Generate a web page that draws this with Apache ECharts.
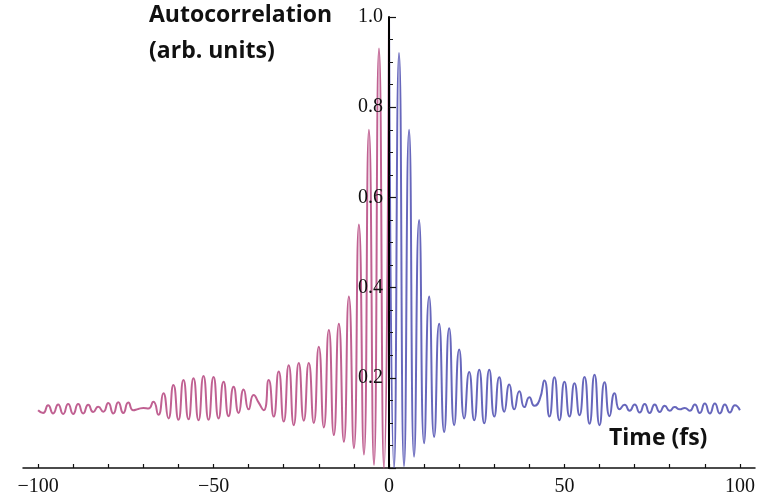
<!DOCTYPE html>
<html>
<head>
<meta charset="utf-8">
<script src="https://cdn.jsdelivr.net/npm/echarts@6/dist/echarts.min.js"></script>
<style>
html,body{margin:0;padding:0;background:#fff;}
#chart{width:759px;height:502px;}
</style>
</head>
<body>
<div id="chart"></div>
<script>
// Spacing (fs) between successive extrema of the fringe pattern
const extremaStepFs = 100 / 70;

// Autocorrelation read at successive extrema, starting at t = 0 and going to t = -100 fs
const leftValues = [
  1.0, 0.0, 0.93, 0.007, 0.75, 0.03, 0.54, 0.044, 0.38, 0.058,
  0.32, 0.073, 0.306, 0.09, 0.269, 0.10, 0.233, 0.105, 0.233, 0.095,
  0.228, 0.103, 0.214, 0.114, 0.195, 0.128, 0.145, 0.162, 0.13, 0.174,
  0.122, 0.18, 0.115, 0.191, 0.11, 0.202, 0.107, 0.204, 0.106, 0.199,
  0.108, 0.195, 0.107, 0.184, 0.11, 0.166, 0.118, 0.147, 0.132, 0.133,
  0.131, 0.128, 0.145, 0.122, 0.146, 0.121, 0.144, 0.125, 0.136, 0.124,
  0.14, 0.121, 0.142, 0.12, 0.142, 0.12, 0.141, 0.121, 0.139, 0.122,
  0.128
];

// Autocorrelation read at successive extrema, starting at t = 0 and going to t = +100 fs
const rightValues = [
  1.0, 0.0, 0.92, 0.004, 0.75, 0.025, 0.55, 0.055, 0.38, 0.069,
  0.32, 0.08, 0.31, 0.095, 0.263, 0.11, 0.213, 0.106, 0.218, 0.099,
  0.218, 0.114, 0.201, 0.125, 0.185, 0.13, 0.17, 0.135, 0.157, 0.138,
  0.15, 0.194, 0.114, 0.201, 0.106, 0.191, 0.114, 0.188, 0.117, 0.202,
  0.098, 0.207, 0.095, 0.19, 0.115, 0.166, 0.13, 0.14, 0.127, 0.141,
  0.123, 0.142, 0.122, 0.141, 0.124, 0.138, 0.127, 0.135, 0.13, 0.133,
  0.127, 0.141, 0.122, 0.143, 0.121, 0.143, 0.121, 0.141, 0.123, 0.139,
  0.128
];

const xTickValues = [-100,-90,-80,-70,-60,-50,-40,-30,-20,-10,0,10,20,30,40,50,60,70,80,90,100];
const xLabelValues = [-100, -50, 0, 50, 100];

const leftData = leftValues.map((v, j) => [-j * extremaStepFs, v]).reverse();
const rightData = rightValues.map((v, j) => [j * extremaStepFs, v]);

const X_MIN = -104.3, X_MAX = 104.3;
const GRID_LEFT = 23, GRID_RIGHT = 4;
const plotW = 759 - GRID_LEFT - GRID_RIGHT;
const zeroOffset = -plotW * (0 - X_MIN) / (X_MAX - X_MIN);

const chart = echarts.init(document.getElementById('chart'), null, {renderer: 'canvas'});
const serif = '"Liberation Serif", "DejaVu Serif", serif';
chart.setOption({
  animation: false,
  backgroundColor: '#ffffff',
  grid: {left: GRID_LEFT, right: GRID_RIGHT, top: 17, bottom: 34, containLabel: false, outerBoundsMode: 'none'},
  xAxis: {
    type: 'value',
    min: X_MIN,
    max: X_MAX,
    axisLine: {onZero: true, lineStyle: {color: '#111', width: 1.5}},
    axisTick: {show: true, inside: true, length: 4, customValues: xTickValues, lineStyle: {color: '#111', width: 1.2}},
    axisLabel: {
      customValues: xLabelValues,
      margin: 9,
      fontFamily: serif,
      fontSize: 20,
      color: '#111',
      formatter: v => String(v).replace('-', '\u2212')
    },
    splitLine: {show: false}
  },
  yAxis: {
    type: 'value',
    min: 0,
    max: 1.0,
    interval: 0.2,
    position: 'left',
    offset: zeroOffset,
    z: 3,
    axisLine: {onZero: false, lineStyle: {color: '#000', width: 2}},
    axisTick: {show: true, inside: true, length: 7, lineStyle: {color: '#111', width: 1.2}},
    minorTick: {show: true, splitNumber: 4, length: 4, lineStyle: {color: '#111', width: 1}},
    axisLabel: {
      showMinLabel: false,
      margin: 6,
      fontFamily: serif,
      fontSize: 20,
      color: '#111',
      formatter: v => v.toFixed(1)
    },
    splitLine: {show: false}
  },
  graphic: [
    {type: 'text', left: 149, top: 4, style: {text: 'Autocorrelation', font: 'bold 23px "Open Sans"', fill: '#111'}},
    {type: 'text', left: 149, top: 40, style: {text: '(arb. units)', font: 'bold 23px "Open Sans"', fill: '#111'}},
    {type: 'text', left: 609, top: 427, style: {text: 'Time (fs)', font: 'bold 23px "Open Sans"', fill: '#111'}}
  ],
  series: [
    {
      type: 'line', data: leftData, showSymbol: false, smooth: 0.6,
      lineStyle: {color: '#b5457f', width: 2, opacity: 0.85}, z: 2
    },
    {
      type: 'line', data: rightData, showSymbol: false, smooth: 0.6,
      lineStyle: {color: '#4c4cb0', width: 2, opacity: 0.85}, z: 2
    }
  ]
});
</script>
</body>
</html>
